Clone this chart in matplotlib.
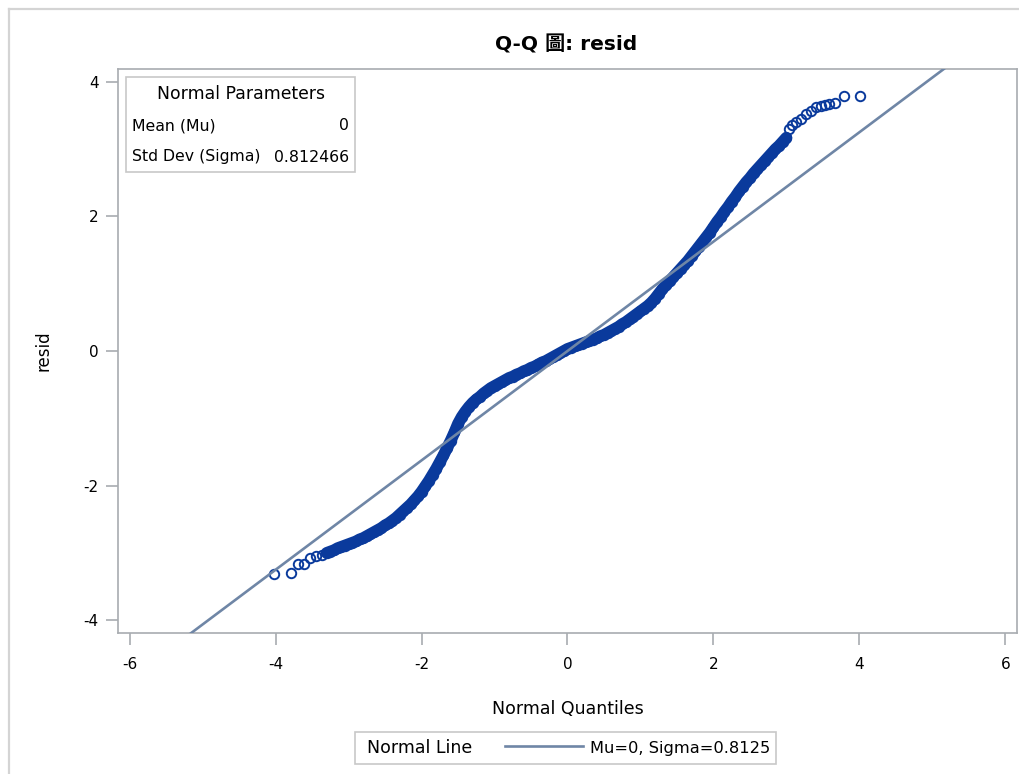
import numpy as np
import matplotlib
matplotlib.use('Agg')
import matplotlib.pyplot as plt
from matplotlib.patches import Rectangle
from matplotlib.lines import Line2D

plt.rcParams['font.family'] = ['DejaVu Sans', 'Noto Sans CJK TC']
plt.rcParams['axes.unicode_minus'] = False

# normal quantiles and sorted residuals
q = [-4.02, -3.79, -3.70, -3.61, -3.53, -3.45, -3.36,
     -3.30, -3.25, -3.20, -3.15, -3.10, -3.05, -3.00, -2.95, -2.90, -2.85,
     -2.80, -2.75, -2.70, -2.65, -2.60, -2.55, -2.50, -2.45, -2.40, -2.35,
     -2.30, -2.25, -2.20, -2.15, -2.10, -2.05, -2.00, -1.95, -1.90, -1.85,
     -1.80, -1.75, -1.70, -1.65, -1.60, -1.55, -1.50, -1.45, -1.40, -1.35,
     -1.30, -1.25, -1.20, -1.15, -1.10, -1.05, -1.00, -0.95, -0.90, -0.85,
     -0.80, -0.75, -0.70, -0.65, -0.60, -0.55, -0.50, -0.45, -0.40, -0.35,
     -0.30, -0.25, -0.20, -0.15, -0.10, -0.05, 0.00, 0.05, 0.10, 0.15,
     0.20, 0.25, 0.30, 0.35, 0.40, 0.45, 0.50, 0.55, 0.60, 0.65,
     0.70, 0.75, 0.80, 0.85, 0.90, 0.95, 1.00, 1.05, 1.10, 1.15,
     1.20, 1.25, 1.30, 1.35, 1.40, 1.45, 1.50, 1.55, 1.60, 1.65,
     1.70, 1.75, 1.80, 1.85, 1.90, 1.95, 2.00, 2.05, 2.10, 2.15,
     2.20, 2.25, 2.30, 2.35, 2.40, 2.45, 2.50, 2.55, 2.60, 2.65,
     2.70, 2.75, 2.80, 2.85, 2.90, 2.95, 3.00,
     3.04, 3.08, 3.13, 3.20, 3.27, 3.34, 3.41, 3.47, 3.53, 3.59, 3.66, 3.79, 4.01]
resid = [-3.31, -3.30, -3.17, -3.17, -3.08, -3.05, -3.03,
         -3.00, -2.98, -2.96, -2.93, -2.91, -2.89, -2.87, -2.85, -2.83, -2.80,
         -2.78, -2.75, -2.72, -2.69, -2.66, -2.63, -2.59, -2.56, -2.52, -2.48,
         -2.43, -2.38, -2.33, -2.28, -2.22, -2.16, -2.09, -2.01, -1.93, -1.84,
         -1.75, -1.65, -1.55, -1.44, -1.33, -1.21, -1.08, -0.98, -0.90, -0.83,
         -0.77, -0.72, -0.68, -0.63, -0.59, -0.55, -0.52, -0.49, -0.46, -0.43,
         -0.40, -0.38, -0.35, -0.33, -0.30, -0.28, -0.25, -0.23, -0.20, -0.17,
         -0.15, -0.12, -0.09, -0.06, -0.03, 0.00, 0.03, 0.05, 0.07, 0.09,
         0.11, 0.13, 0.15, 0.17, 0.19, 0.22, 0.24, 0.27, 0.30, 0.33,
         0.36, 0.40, 0.43, 0.47, 0.51, 0.55, 0.59, 0.63, 0.67, 0.72,
         0.78, 0.85, 0.92, 0.98, 1.04, 1.10, 1.16, 1.22, 1.28, 1.34,
         1.41, 1.48, 1.55, 1.62, 1.69, 1.76, 1.84, 1.92, 1.99, 2.07,
         2.14, 2.22, 2.29, 2.37, 2.44, 2.51, 2.57, 2.64, 2.70, 2.76,
         2.82, 2.88, 2.94, 3.00, 3.05, 3.11, 3.17,
         3.30, 3.36, 3.40, 3.45, 3.52, 3.57, 3.62, 3.64, 3.66, 3.67, 3.69, 3.79, 3.79]

mu = 0
sigma = 0.8125
sigma_full = 0.812466

q = np.array(q)
resid = np.array(resid)
dense = (q >= -3.30) & (q <= 3.00)

W, H = 1020, 774
fig = plt.figure(figsize=(W / 100, H / 100), dpi=100)
ax = fig.add_axes([118 / W, 1 - 633 / H, (1017 - 118) / W, (633 - 69) / H])

blue = '#0a3a9c'
xl = np.array([-6.16, 6.16])
# overlapping markers in the dense middle read as a solid band
ax.plot(q[dense], resid[dense], color=blue, lw=8.5, solid_capstyle='round', solid_joinstyle='round', zorder=2)
ax.plot(q, resid, 'o', ms=6.8, mfc='none', mec=blue, mew=1.4, zorder=2)
ax.plot(xl, mu + sigma * xl, color='#6f86a6', lw=1.9, zorder=3)

ax.set_xlim(-6.16, 6.16)
ax.set_ylim(-4.19, 4.19)
ax.set_xticks([-6, -4, -2, 0, 2, 4, 6])
ax.set_yticks([-4, -2, 0, 2, 4])
for s in ax.spines.values():
    s.set_color('#a8acb0')
    s.set_linewidth(1.2)
ax.tick_params(colors='#a8acb0', labelcolor='black', length=8.5, width=1.2, labelsize=11)
ax.tick_params(axis='x', pad=9)
ax.tick_params(axis='y', pad=5.5)
ax.set_xlabel('Normal Quantiles', fontsize=12.5, labelpad=20)
ax.set_ylabel('resid', fontsize=12, labelpad=22)
fig.text(566 / W, 1 - 45 / H, 'Q-Q 圖: resid', ha='center', va='center', fontsize=14.5, fontweight='bold')


def fx(px):
    return px / W


def fy(py):
    return 1 - py / H


# outer frame
fig.add_artist(Line2D([fx(9), fx(1020)], [fy(9), fy(9)], color='#d4d4d4', lw=1.6))
fig.add_artist(Line2D([fx(9), fx(9)], [fy(9), fy(774)], color='#d4d4d4', lw=1.6))

# normal parameters inset
fig.add_artist(Rectangle((fx(126), fy(172)), fx(355) - fx(126), fy(77) - fy(172),
                         fill=True, fc='white', ec='#c8c8c8', lw=1.2, zorder=5))
fig.text(fx(241), fy(94), 'Normal Parameters', ha='center', va='center', fontsize=12.4, zorder=6)
fig.text(fx(132), fy(126), 'Mean (Mu)', ha='left', va='center', fontsize=11.3, zorder=6)
fig.text(fx(349), fy(126), str(mu), ha='right', va='center', fontsize=11.3, zorder=6)
fig.text(fx(132), fy(157), 'Std Dev (Sigma)', ha='left', va='center', fontsize=11.3, zorder=6)
fig.text(fx(349), fy(157), '%.6f' % sigma_full, ha='right', va='center', fontsize=11.3, zorder=6)

# bottom legend
fig.add_artist(Rectangle((fx(355), fy(764)), fx(776) - fx(355), fy(732) - fy(764),
                         fill=False, ec='#c8c8c8', lw=1.2))
fig.text(fx(367), fy(748), 'Normal Line', ha='left', va='center', fontsize=12.5)
fig.add_artist(Line2D([fx(505), fx(583)], [fy(746), fy(746)], color='#6f86a6', lw=1.9))
fig.text(fx(590), fy(748), 'Mu=%g, Sigma=%.4f' % (mu, sigma), ha='left', va='center', fontsize=11.7)

fig.savefig('out.png', dpi=100)
